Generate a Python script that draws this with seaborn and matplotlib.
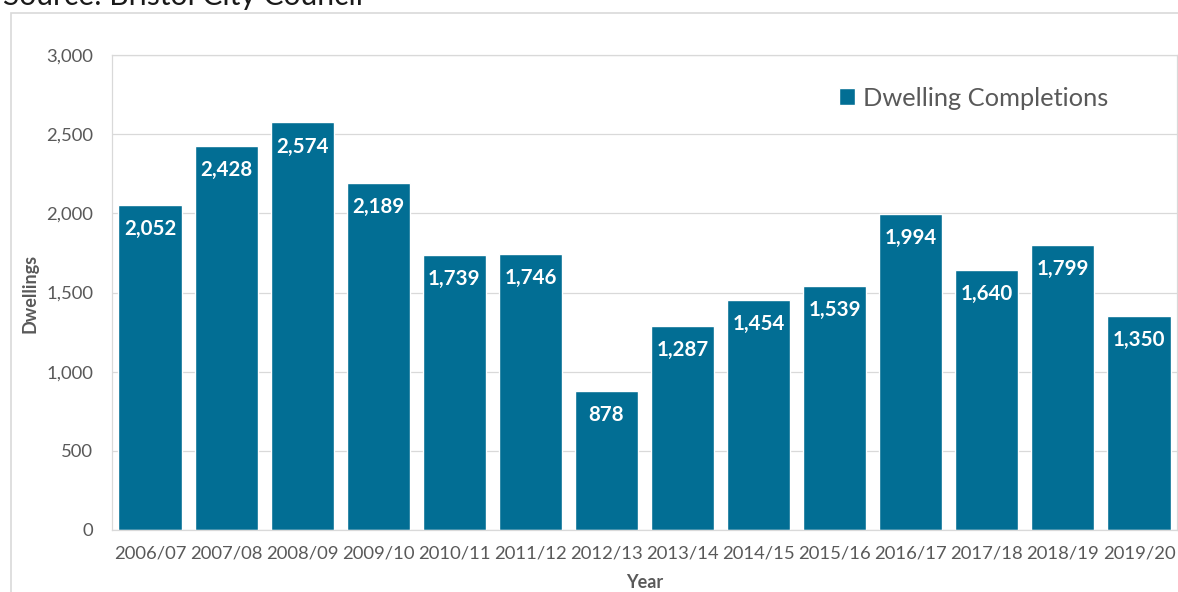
import matplotlib
matplotlib.use("Agg")
import matplotlib.pyplot as plt
import seaborn as sns
import pandas as pd
from matplotlib.patches import Rectangle
from matplotlib.ticker import FuncFormatter

years = ["2006/07", "2007/08", "2008/09", "2009/10", "2010/11", "2011/12", "2012/13",
         "2013/14", "2014/15", "2015/16", "2016/17", "2017/18", "2018/19", "2019/20"]
completions = [2052, 2428, 2574, 2189, 1739, 1746, 878, 1287, 1454, 1539, 1994, 1640, 1799, 1350]
series_name = "Dwelling Completions"
yticks = [0, 500, 1000, 1500, 2000, 2500, 3000]

sns.set_theme(style="white")
plt.rcParams["font.family"] = ["Lato", "DejaVu Sans"]

W, H = 1178, 592
fig = plt.figure(figsize=(W / 100, H / 100), dpi=100)
ax = fig.add_axes([112 / W, 1 - 530 / H, (1177 - 112) / W, (530 - 55) / H])

BAR = "#026E94"
GRAY = "#595959"
LINE = "#D9D9D9"

df = pd.DataFrame({"Year": years, "Dwellings": completions})
sns.barplot(data=df, x="Year", y="Dwellings", color=BAR, saturation=1, width=0.83,
            ax=ax, label=series_name)

ax.set_xlim(-0.5, len(years) - 0.5)
ax.set_ylim(0, 3000)
ax.set_yticks(yticks)
ax.yaxis.set_major_formatter(FuncFormatter(lambda v, p: f"{int(v):,}"))
ax.grid(axis="y", color=LINE, lw=0.9)
ax.set_axisbelow(True)
for s in ax.spines.values():
    s.set_visible(True)
    s.set_color(LINE)
    s.set_linewidth(0.9)
ax.tick_params(axis="y", length=0, pad=13.5, labelsize=13.3, labelcolor=GRAY)
ax.tick_params(axis="x", length=0, pad=11, labelsize=13.3, labelcolor=GRAY)

# value labels inside bars
for patch, v in zip(ax.patches, completions):
    ax.annotate(f"{v:,}", (patch.get_x() + patch.get_width() / 2, patch.get_height()),
                xytext=(0, -17.3), textcoords="offset points", ha="center", va="center",
                color="white", fontsize=14.8, fontweight="bold")

ax.set_xlabel("Year", fontsize=13, fontweight="bold", color=GRAY)
ax.xaxis.set_label_coords(645 / W, 1 - 574 / H, transform=fig.transFigure)
ax.set_ylabel("Dwellings", fontsize=13, fontweight="bold", color=GRAY)
ax.yaxis.set_label_coords(38 / W, 1 - 293 / H, transform=fig.transFigure)

leg = ax.legend(loc="center left", bbox_to_anchor=(839 / W, 1 - 98 / H),
                bbox_transform=fig.transFigure, frameon=False, fontsize=18.3,
                handlelength=0.63, handleheight=0.63, handletextpad=0.31,
                borderpad=0, borderaxespad=0)
for t in leg.get_texts():
    t.set_color(GRAY)

# outer chart border (partially visible)
fig.patches.append(Rectangle((10.5 / W, -0.2), 1.2, 1.2 - 13 / H, transform=fig.transFigure,
                             fill=False, edgecolor=LINE, lw=1.2))
fig.text(3 / W, 1 - 5 / H, "Source: Bristol City Council", fontsize=21.6,
         color="#1a1a1a", va="baseline", ha="left")

fig.savefig("out.png", dpi=100)
